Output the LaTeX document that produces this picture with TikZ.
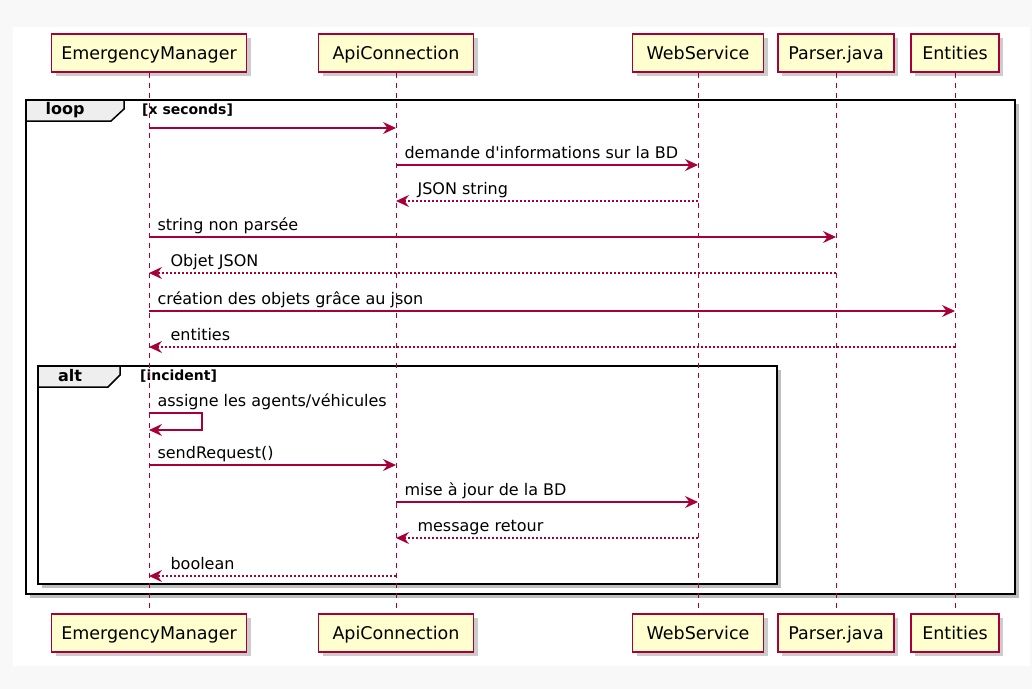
\documentclass[tikz,border=0pt]{standalone}
\usepackage{fontspec}
\setmainfont{DejaVu Sans}
\usetikzlibrary{arrows.meta,shadows,calc}
\definecolor{umlred}{HTML}{A80036}
\definecolor{umlfill}{HTML}{FEFECE}
\definecolor{tabgray}{HTML}{EEEEEE}
\definecolor{pagegray}{HTML}{F8F8F8}

\begin{document}
\begin{tikzpicture}[x=1pt,y=-1pt,
  participant/.style={draw=umlred, line width=1.2pt, fill=umlfill, inner sep=0pt,
    minimum height=38pt, text height=15pt, text depth=2pt,
    font=\fontsize{17.5}{20}\selectfont,
    drop shadow={shadow xshift=4pt, shadow yshift=-4pt, fill=black, opacity=0.2}},
  lifeline/.style={draw=umlred, line width=0.9pt, dash pattern=on 5pt off 5pt},
  call/.style={draw=umlred, line width=1.1pt, -{Stealth[length=13pt,width=12pt,inset=4.5pt]}},
  reply/.style={call, dash pattern=on 2pt off 2pt},
  msgR/.style={pos=0, anchor=base west, inner sep=0pt, xshift=8pt, yshift=7pt,
    font=\fontsize{16}{18}\selectfont},
  msgL/.style={pos=1, anchor=base west, inner sep=0pt, xshift=21pt, yshift=7pt,
    font=\fontsize{16}{18}\selectfont},
  frame/.style={draw=black, line width=2.5pt, fill=white,
    drop shadow={shadow xshift=4pt, shadow yshift=-4pt, fill=black, opacity=0.25}},
  tab/.style={draw=black, line width=1.5pt, fill=tabgray},
  tabname/.style={font=\bfseries\fontsize{16}{18}\selectfont, inner sep=0pt},
  guard/.style={font=\bfseries\fontsize{14}{16}\selectfont, inner sep=0pt, anchor=west}
]
% page
\fill[pagegray] (0,0) rectangle (1032,689);
\fill[white] (13,27) rectangle (1030,666);
\useasboundingbox (0,0) rectangle (1032,689);

% combined fragments
\draw[frame] (26,100) rectangle (1015,594);
\draw[tab] (26,100) -- (124,100) -- (124,109) -- (111,121) -- (26,121) -- cycle;
\node[tabname] (loopname) at (65,110) {loop};
\node[guard] (loopguard) at (142,110) {[x seconds]};

\draw[frame] (38,366) rectangle (777,584);
\draw[tab] (38,366) -- (120,366) -- (120,375) -- (108,387) -- (38,387) -- cycle;
\node[tabname] (altname) at (70,376) {alt};
\node[guard] (altguard) at (140,376) {[incident]};

% participants
\node[participant, minimum width=195pt] (emTop)  at (149,53)  {EmergencyManager};
\node[participant, minimum width=155pt] (apiTop) at (396,53)  {ApiConnection};
\node[participant, minimum width=131pt] (wsTop)  at (698,53)  {WebService};
\node[participant, minimum width=116pt] (prTop)  at (836,53)  {Parser.java};
\node[participant, minimum width=88pt]  (enTop)  at (955,53)  {Entities};
\node[participant, minimum width=195pt] (emBot)  at (149,633) {EmergencyManager};
\node[participant, minimum width=155pt] (apiBot) at (396,633) {ApiConnection};
\node[participant, minimum width=131pt] (wsBot)  at (698,633) {WebService};
\node[participant, minimum width=116pt] (prBot)  at (836,633) {Parser.java};
\node[participant, minimum width=88pt]  (enBot)  at (955,633) {Entities};

% lifelines
\draw[lifeline] (emTop.south)  -- (emBot.north);
\draw[lifeline] (apiTop.south) -- (apiBot.north);
\draw[lifeline] (wsTop.south)  -- (wsBot.north);
\draw[lifeline] (prTop.south)  -- (prBot.north);
\draw[lifeline] (enTop.south)  -- (enBot.north);

% messages
\draw[call]  (emTop |- 0,128) -- (apiTop |- 0,128);
\draw[call]  (apiTop |- 0,165) -- node[msgR] {demande d\textquotesingle informations sur la BD} (wsTop |- 0,165);
\draw[reply] (wsTop |- 0,201) -- node[msgL] {JSON string} (apiTop |- 0,201);
\draw[call]  (emTop |- 0,237) -- node[msgR] {string non parsée} (prTop |- 0,237);
\draw[reply] (prTop |- 0,273) -- node[msgL] {Objet JSON} (emTop |- 0,273);
\draw[call]  (emTop |- 0,311) -- node[msgR] {création des objets grâce au json} (enTop |- 0,311);
\draw[reply] (enTop |- 0,347) -- node[msgL] {entities} (emTop |- 0,347);

\draw[call]  (emTop |- 0,413) -- node[msgR] {assigne les agents/véhicules}
  ++(53,0) -- ++(0,17) -- (emTop |- 0,430);
\draw[call]  (emTop |- 0,465) -- node[msgR] {sendRequest()} (apiTop |- 0,465);
\draw[call]  (apiTop |- 0,502) -- node[msgR] {mise à jour de la BD} (wsTop |- 0,502);
\draw[reply] (wsTop |- 0,538) -- node[msgL] {message retour} (apiTop |- 0,538);
\draw[reply] (apiTop |- 0,576) -- node[msgL] {boolean} (emTop |- 0,576);
\end{tikzpicture}
\end{document}
